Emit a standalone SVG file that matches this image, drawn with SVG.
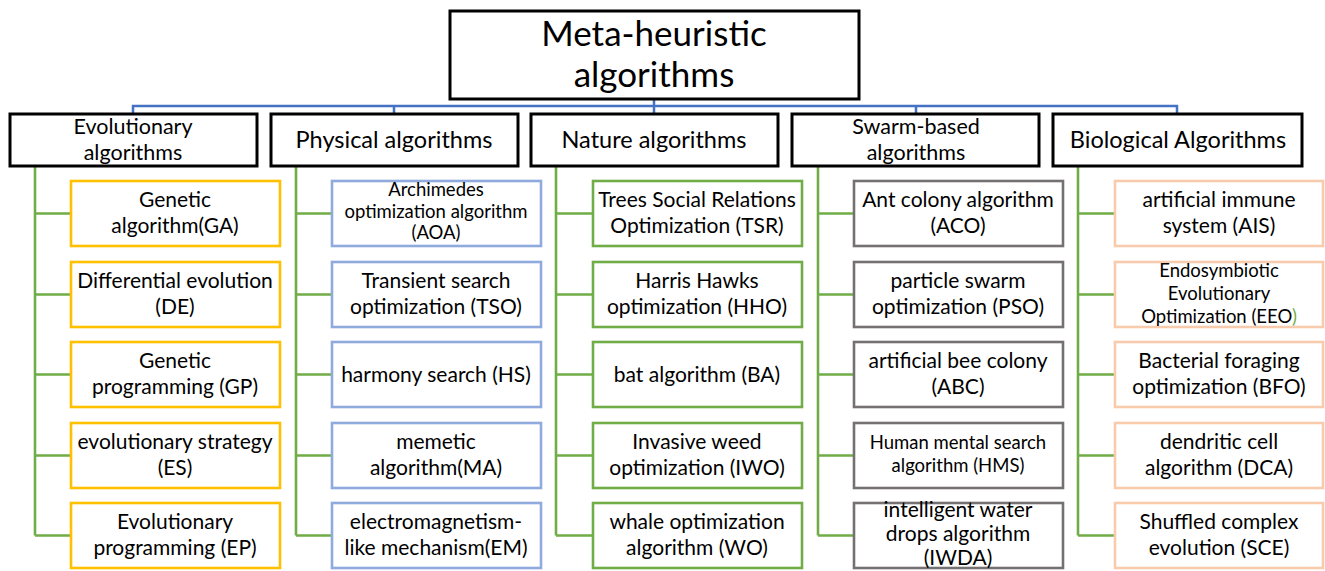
<svg xmlns="http://www.w3.org/2000/svg" width="1325" height="571" viewBox="0 0 1325 571">
<style>
text{font-family:Lato,"Liberation Sans",sans-serif;fill:#000;text-anchor:middle}
.cat rect{fill:#fff;stroke:#000;stroke-width:3}
.cat text{font-size:23.5px}
.cat text.two{font-size:21.5px}
.cat text.title{font-size:35px}
.leaf rect{fill:#fff;stroke-width:2.6}
.leaf text{font-size:21px}
.leaf text.sm{font-size:18.5px}
.y rect{stroke:#FFC000}
.b rect{stroke:#8FAADC}
.g rect{stroke:#70AD47}
.k rect{stroke:#767171}
.p rect{stroke:#F8CBAD}
.blue{stroke:#4472C4;stroke-width:2.5;fill:none}
.green{stroke:#70AD47;stroke-width:2.6;fill:none}
</style>
<rect width="1325" height="571" fill="#fff"/>
<g id="connectors">
<path class="blue" d="M654 99V106M133 113V106H1177V113M394 106V113M654 106V113M916 106V113"/>
<path class="green" d="M35 167V535.5M35 213.5H70M35 294.5H70M35 374.5H70M35 455.5H70M35 535.5H70"/>
<path class="green" d="M296 167V535.5M296 213.5H332M296 294.5H332M296 374.5H332M296 455.5H332M296 535.5H332"/>
<path class="green" d="M556 167V535.5M556 213.5H593M556 294.5H593M556 374.5H593M556 455.5H593M556 535.5H593"/>
<path class="green" d="M818 167V535.5M818 213.5H854M818 294.5H854M818 374.5H854M818 455.5H854M818 535.5H854"/>
<path class="green" d="M1078 167V535.5M1078 213.5H1115M1078 294.5H1115M1078 374.5H1115M1078 455.5H1115M1078 535.5H1115"/>
</g>
<g id="root" class="cat"><rect x="450" y="11" width="409" height="88"/><text class="title" x="654" y="46">Meta-heuristic</text><text class="title" x="654" y="87">algorithms</text></g>
<g id="cat-evolutionary" class="cat"><rect x="10" y="114" width="247" height="52"/><text class="two" x="133" y="134">Evolutionary</text><text class="two" x="133" y="160">algorithms</text></g>
<g id="cat-physical" class="cat"><rect x="271" y="114" width="247" height="52"/><text x="394" y="148">Physical algorithms</text></g>
<g id="cat-nature" class="cat"><rect x="531" y="114" width="247" height="52"/><text x="654" y="148">Nature algorithms</text></g>
<g id="cat-swarm" class="cat"><rect x="792" y="114" width="247" height="52"/><text class="two" x="916" y="134">Swarm-based</text><text class="two" x="916" y="160">algorithms</text></g>
<g id="cat-biological" class="cat"><rect x="1053" y="114" width="249" height="52"/><text x="1178" y="148">Biological Algorithms</text></g>

<g id="ga" class="leaf y"><rect x="71" y="181" width="209" height="65"/><text x="175" y="207">Genetic</text><text x="175" y="233">algorithm(GA)</text></g>
<g id="de" class="leaf y"><rect x="71" y="262" width="209" height="65"/><text x="175" y="288">Differential evolution</text><text x="175" y="314">(DE)</text></g>
<g id="gp" class="leaf y"><rect x="71" y="342" width="209" height="65"/><text x="175" y="368">Genetic</text><text x="175" y="394">programming (GP)</text></g>
<g id="es" class="leaf y"><rect x="71" y="423" width="209" height="65"/><text x="175" y="449">evolutionary strategy</text><text x="175" y="475">(ES)</text></g>
<g id="ep" class="leaf y"><rect x="71" y="503" width="209" height="65"/><text x="175" y="529">Evolutionary</text><text x="175" y="555">programming (EP)</text></g>

<g id="aoa" class="leaf b"><rect x="332" y="181" width="209" height="65"/><text class="sm" x="436" y="196">Archimedes</text><text class="sm" x="436" y="218">optimization algorithm</text><text class="sm" x="436" y="239">(AOA)</text></g>
<g id="tso" class="leaf b"><rect x="332" y="262" width="209" height="65"/><text x="436" y="288">Transient search</text><text x="436" y="314">optimization (TSO)</text></g>
<g id="hs" class="leaf b"><rect x="332" y="342" width="209" height="65"/><text x="436" y="382">harmony search (HS)</text></g>
<g id="ma" class="leaf b"><rect x="332" y="423" width="209" height="65"/><text x="436" y="449">memetic</text><text x="436" y="475">algorithm(MA)</text></g>
<g id="em" class="leaf b"><rect x="332" y="503" width="209" height="65"/><text x="436" y="529">electromagnetism-</text><text x="436" y="555">like mechanism(EM)</text></g>

<g id="tsr" class="leaf g"><rect x="593" y="181" width="209" height="65"/><text x="697" y="207">Trees Social Relations</text><text x="697" y="233">Optimization (TSR)</text></g>
<g id="hho" class="leaf g"><rect x="593" y="262" width="209" height="65"/><text x="697" y="288">Harris Hawks</text><text x="697" y="314">optimization (HHO)</text></g>
<g id="ba" class="leaf g"><rect x="593" y="342" width="209" height="65"/><text x="697" y="382">bat algorithm (BA)</text></g>
<g id="iwo" class="leaf g"><rect x="593" y="423" width="209" height="65"/><text x="697" y="449">Invasive weed</text><text x="697" y="475">optimization (IWO)</text></g>
<g id="wo" class="leaf g"><rect x="593" y="503" width="209" height="65"/><text x="697" y="529">whale optimization</text><text x="697" y="555">algorithm (WO)</text></g>

<g id="aco" class="leaf k"><rect x="854" y="181" width="209" height="65"/><text x="958" y="207">Ant colony algorithm</text><text x="958" y="233">(ACO)</text></g>
<g id="pso" class="leaf k"><rect x="854" y="262" width="209" height="65"/><text x="958" y="288">particle swarm</text><text x="958" y="314">optimization (PSO)</text></g>
<g id="abc" class="leaf k"><rect x="854" y="342" width="209" height="65"/><text x="958" y="368">artificial bee colony</text><text x="958" y="394">(ABC)</text></g>
<g id="hms" class="leaf k"><rect x="854" y="423" width="209" height="65"/><text class="sm" x="958" y="449">Human mental search</text><text class="sm" x="958" y="472">algorithm (HMS)</text></g>
<g id="iwda" class="leaf k"><rect x="854" y="503" width="209" height="65"/><text x="958" y="517">intelligent water</text><text x="958" y="541">drops algorithm</text><text x="958" y="565">(IWDA)</text></g>

<g id="ais" class="leaf p"><rect x="1115" y="181" width="208" height="65"/><text x="1219" y="207">artificial immune</text><text x="1219" y="233">system (AIS)</text></g>
<g id="eeo" class="leaf p"><rect x="1115" y="262" width="208" height="65"/><text class="sm" x="1219" y="277">Endosymbiotic</text><text class="sm" x="1219" y="300">Evolutionary</text><text class="sm" x="1219" y="323">Optimization (EEO<tspan fill="#70AD47">)</tspan></text></g>
<g id="bfo" class="leaf p"><rect x="1115" y="342" width="208" height="65"/><text x="1219" y="368">Bacterial foraging</text><text x="1219" y="394">optimization (BFO)</text></g>
<g id="dca" class="leaf p"><rect x="1115" y="423" width="208" height="65"/><text x="1219" y="449">dendritic cell</text><text x="1219" y="475">algorithm (DCA)</text></g>
<g id="sce" class="leaf p"><rect x="1115" y="503" width="208" height="65"/><text x="1219" y="529">Shuffled complex</text><text x="1219" y="555">evolution (SCE)</text></g>
</svg>
